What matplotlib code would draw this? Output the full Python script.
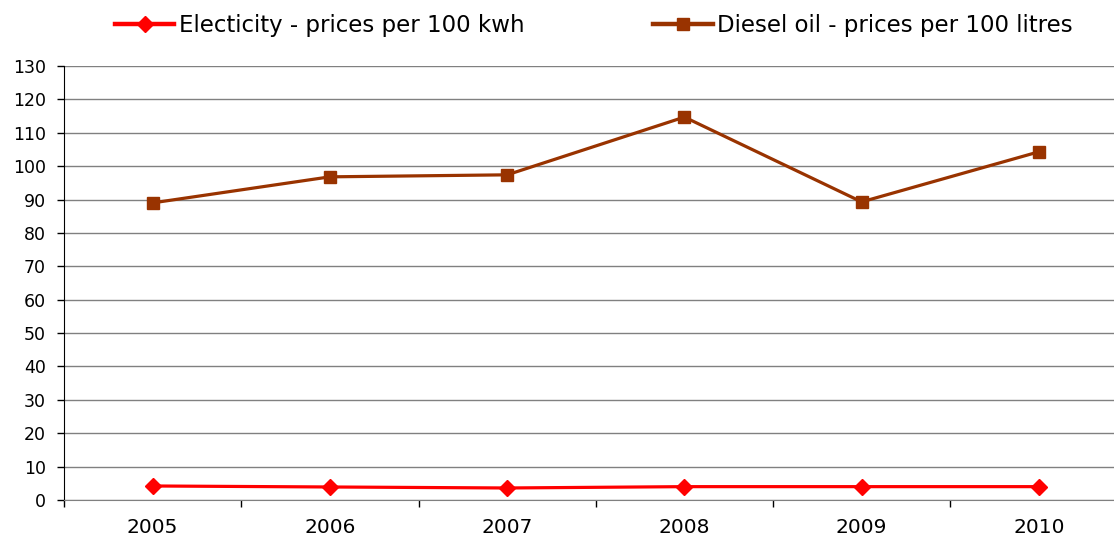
import matplotlib
matplotlib.use('Agg')
import matplotlib.pyplot as plt
from matplotlib.ticker import FixedLocator, MultipleLocator

plt.rcParams['font.family'] = ['DejaVu Sans']

years = ['2005', '2006', '2007', '2008', '2009', '2010']
electricity = [4.2, 3.9, 3.6, 4.0, 4.0, 4.0]
diesel = [89.0, 96.8, 97.4, 114.7, 89.3, 104.3]

labels = ['Electicity - prices per 100 kwh', 'Diesel oil - prices per 100 litres']
colors = ['#FF0000', '#993300']

fig = plt.figure(figsize=(11.14, 5.36), dpi=100)
ax = fig.add_axes([64 / 1114, 1 - 500 / 536, 1 - 64 / 1114, 434 / 536])

x = list(range(len(years)))
ax.plot(x, electricity, color=colors[0], lw=2.3, marker='D', markersize=8,
        label=labels[0], zorder=3)
ax.plot(x, diesel, color=colors[1], lw=2.3, marker='s', markersize=9,
        label=labels[1], zorder=3)

ax.set_ylim(0, 130)
ax.yaxis.set_major_locator(MultipleLocator(10))
ax.set_xlim(-0.5, 5.5 - 13.5 / 177)
ax.set_xticks(x)
ax.set_xticklabels(years)
ax.xaxis.set_minor_locator(FixedLocator([i + 0.5 for i in range(-1, 6)]))

ax.grid(axis='y', color='#808080', lw=1)
ax.set_axisbelow(True)
for side in ['top', 'right']:
    ax.spines[side].set_visible(False)
ax.spines['bottom'].set_color('#808080')
ax.spines['left'].set_color('black')

ax.tick_params(axis='x', which='major', length=0, pad=13, labelsize=14.5)
ax.tick_params(axis='x', which='minor', length=5, width=1, color='black')
ax.tick_params(axis='y', length=5, width=1, color='black', pad=8, labelsize=12.5)

leg = fig.legend(loc='upper center', bbox_to_anchor=(0.533, 1.012), ncol=2,
                 frameon=False, fontsize=16.5, handlelength=2.6, columnspacing=5.6,
                 handletextpad=0.2)
for line in leg.get_lines():
    line.set_linewidth(3.2)

fig.savefig('out.png', dpi=100)
